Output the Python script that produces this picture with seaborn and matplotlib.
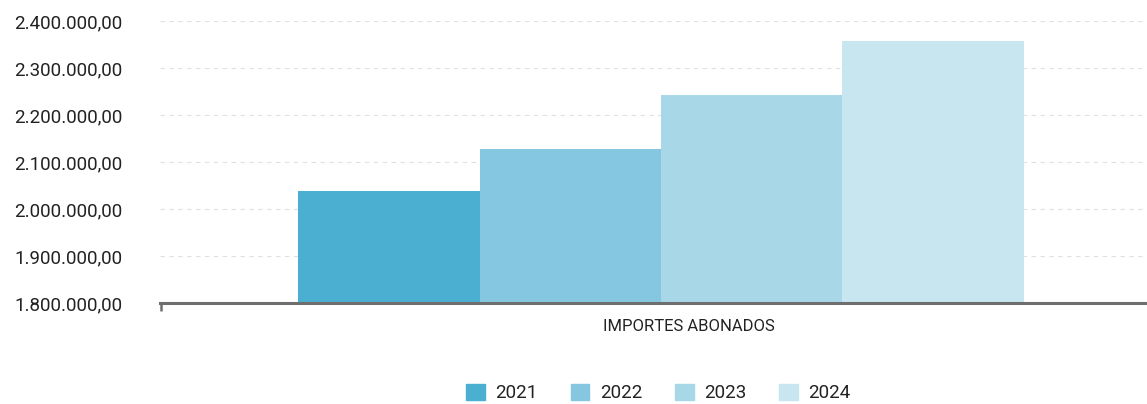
import numpy as np
import pandas as pd
import matplotlib
matplotlib.use("Agg")
import matplotlib.pyplot as plt
from matplotlib.ticker import FuncFormatter, FixedLocator
import seaborn as sns

# ── Data ──────────────────────────────────────────────────────
categoria = ["IMPORTES ABONADOS"]
anios = ["2021", "2022", "2023", "2024"]
importes = [2038000, 2127500, 2242500, 2357500]
colores = ["#4aafd0", "#85c6e0", "#a8d7e8", "#c7e6f0"]
y_ticks = [1800000, 1900000, 2000000, 2100000, 2200000, 2300000, 2400000]

df = pd.DataFrame({
    "categoria": categoria * len(anios),
    "anio": anios,
    "importe": importes,
})

# ── Plot ──────────────────────────────────────────────────────
sns.set_style("white")
plt.rcParams["font.family"] = ["Roboto", "DejaVu Sans"]

fig = plt.figure(figsize=(11.47, 4.04), dpi=100)
ax = fig.add_axes([160 / 1147, 1 - 303 / 404, 1 - 160 / 1147, (303 - 21) / 404])

sns.barplot(data=df, x="categoria", y="importe", hue="anio",
            palette=colores, width=0.735, saturation=1, ax=ax,
            edgecolor="none", linewidth=0)

ax.set_ylim(y_ticks[0], y_ticks[-1])
ax.set_xlim(-0.5076, 0.4924)
ax.yaxis.set_major_locator(FixedLocator(y_ticks))


def fmt_es(v, pos):
    s = f"{v:,.2f}"
    return s.replace(",", "X").replace(".", ",").replace("X", ".")


ax.yaxis.set_major_formatter(FuncFormatter(fmt_es))
ax.tick_params(axis="y", length=0, pad=27, labelsize=13.5, labelcolor="#222222")

ax.grid(axis="y", color="#e0e0e0", linestyle=(0, (4, 4)), linewidth=0.8)
ax.set_axisbelow(True)

for side in ["top", "right", "left"]:
    ax.spines[side].set_visible(False)
ax.spines["bottom"].set_color("#6e6e6e")
ax.spines["bottom"].set_linewidth(2.2)

# x axis: small tick at left edge only, label placed as text
ax.set_xticks([])
ax.xaxis.set_minor_locator(FixedLocator([ax.get_xlim()[0] + 0.001]))
ax.tick_params(axis="x", which="minor", bottom=True, length=6, width=1.8,
               color="#6e6e6e", direction="out")
ax.set_xlabel("")
ax.set_ylabel("")
ax.text((689 - 160) / 987, -0.085, categoria[0], transform=ax.transAxes,
        ha="center", va="center", fontsize=12, color="#222222")

ax.get_legend().remove()
handles = [plt.Rectangle((0, 0), 1, 1, color=c) for c in colores]
fig.legend(handles, anios, loc="center", bbox_to_anchor=(0.574, 0.027),
           ncol=4, frameon=False, fontsize=13.5, handlelength=1.0,
           handleheight=1.0, columnspacing=1.75, handletextpad=0.55,
           labelcolor="#222222")

fig.savefig("out.png", dpi=100)
